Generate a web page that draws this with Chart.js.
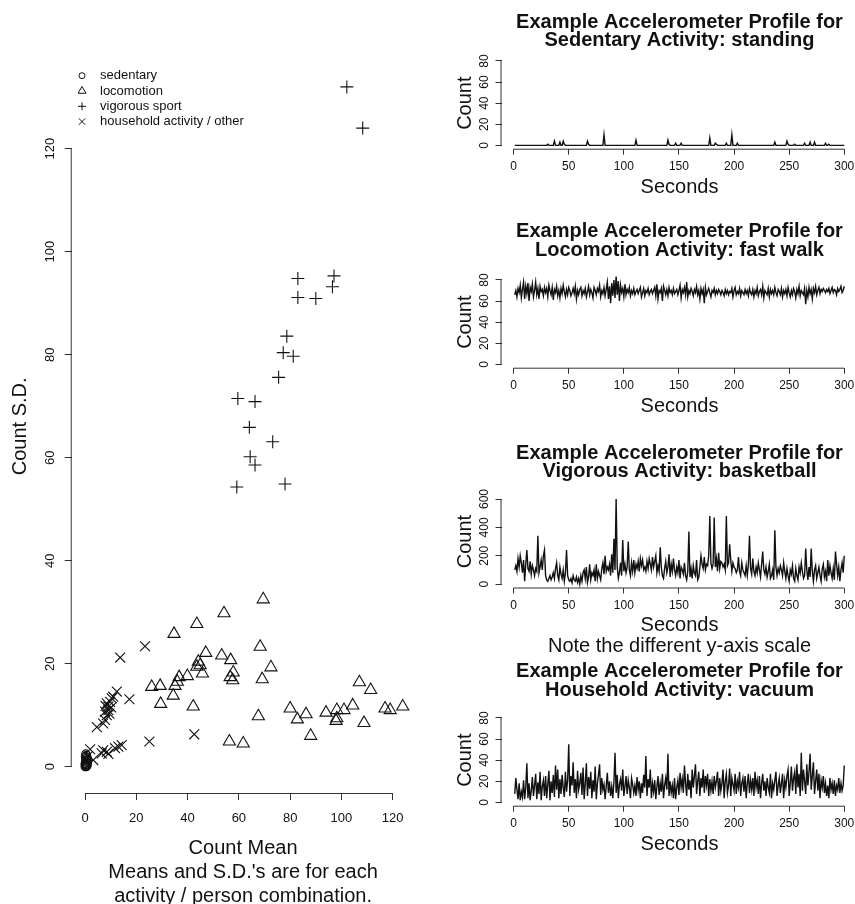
<!DOCTYPE html>
<html>
<head>
<meta charset="utf-8">
<title>Accelerometer profiles</title>
<script src="https://cdn.jsdelivr.net/npm/chart.js@4.4.1/dist/chart.umd.min.js"></script>
<style>
  html, body { margin: 0; padding: 0; width: 855px; height: 904px; overflow: hidden; background: #fff; }
  canvas { position: absolute; }
</style>
</head>
<body>
<canvas id="scatterChart" width="430" height="908" style="left:0;top:0"></canvas>
<canvas id="standingChart" width="430" height="199" style="left:430px;top:0"></canvas>
<canvas id="walkChart" width="430" height="199" style="left:430px;top:219px"></canvas>
<canvas id="basketballChart" width="430" height="219" style="left:430px;top:438px"></canvas>
<canvas id="vacuumChart" width="430" height="199" style="left:430px;top:657px"></canvas>
<script>
// scatter: count mean vs count S.D., one point per activity / person
const sedentaryMean = [0.0, 0.1, 0.3, 0.2, 0.5, 0.7, 0.4, 0.9, 0.1, 0.6, 1.0, 0.2, 0.8, 0.0, 0.5, 0.3, 1.1, 0.4];
const sedentarySD = [0.0, 0.4, 0.1, 0.9, 0.5, 1.2, 1.6, 0.3, 2.0, 2.2, 0.8, 1.3, 1.8, 0.6, 0.0, 2.5, 1.4, 0.2];

const locomotionMean = [69.5, 54.2, 43.6, 34.7, 68.3, 47.1, 53.3, 56.8, 44.2, 44.9, 43.6, 72.5, 45.8, 57.8, 56.6,
  57.6, 69.1, 39.9, 36.7, 36.0, 35.1, 29.3, 26.0, 34.4, 29.5, 42.2, 67.6, 56.3, 61.7, 80.0,
  82.8, 86.2, 88.0, 94.0, 98.2, 97.9, 98.2, 101.0, 104.4, 107.0, 111.4, 108.8, 117.0, 119.0, 123.9];
const locomotionSD = [32.5, 29.8, 27.7, 25.8, 23.3, 22.1, 21.6, 20.7, 20.4, 19.7, 19.4, 19.3, 18.1, 18.3, 17.4,
  16.8, 17.0, 17.6, 17.4, 16.5, 15.7, 15.7, 15.5, 13.8, 12.2, 11.7, 9.8, 4.9, 4.5, 11.3,
  9.2, 10.2, 6.0, 10.5, 11.0, 8.9, 9.4, 11.0, 11.9, 16.4, 14.9, 8.5, 11.3, 11.0, 11.7];

const vigorousMean = [102.1, 108.3, 83.0, 97.1, 96.5, 83.0, 90.0, 78.7, 77.3, 81.2, 75.5, 59.6, 66.3, 64.1, 73.2, 64.4, 66.3, 59.2, 78.0];
const vigorousSD = [132.0, 124.0, 94.8, 95.3, 93.2, 91.1, 90.9, 83.6, 80.4, 79.7, 75.6, 71.5, 70.9, 65.9, 63.1, 60.2, 58.6, 54.3, 54.9];

const householdMean = [13.7, 23.4, 12.4, 17.3, 4.6, 7.1, 7.8, 8.5, 7.8, 9.1, 8.5, 9.8, 10.4, 11.0, 9.1,
  10.2, 8.0, 9.5, 2.0, 7.1, 8.5, 9.1, 11.7, 13.0, 14.3, 25.1, 42.6, 3.2, 1.0, 6.5];
const householdSD = [21.2, 23.4, 14.6, 13.1, 7.7, 8.4, 9.1, 10.0, 10.7, 11.7, 12.3, 12.6, 13.3, 13.6, 11.0,
  11.5, 11.8, 10.3, 3.4, 3.2, 2.9, 2.5, 3.6, 3.9, 4.2, 4.9, 6.3, 1.3, 2.0, 2.6];

const meanTicks = [0, 20, 40, 60, 80, 100, 120];
const secondTicks = [0, 50, 100, 150, 200, 250, 300];

// example profiles, one count per second (1..300)
const standing = [
  0,0,0,0,0,0,0,0,0,0, 0,0,0,0,0,0,0,0,0,0, 0,0,0,0,0,0,0,0,0,0,
  1,0,0,0,0,0,4,0,0,0, 0,3,0,0,4,1,0,0,0,0, 0,0,0,0,0,0,0,0,0,0,
  0,0,0,0,0,0,4,1,0,0, 0,0,0,0,0,0,0,0,0,0, 0,10,0,0,0,0,0,0,0,0,
  0,0,0,0,0,0,0,0,0,0, 0,0,0,0,0,0,0,0,0,0, 5,0,0,0,0,0,0,0,0,0,
  0,0,0,0,0,0,0,0,0,0, 0,0,0,0,0,0,0,0,0,5, 1,0,0,0,0,0,2,0,0,0,
  0,2,0,0,0,0,0,0,0,0, 0,0,0,0,0,0,0,0,0,0, 0,0,0,0,0,0,0,7,0,0,
  0,0,2,1,0,0,0,0,0,0, 0,0,2,0,0,0,0,10,0,0, 0,0,2,0,0,0,0,0,0,0,
  0,0,0,0,0,0,0,0,0,0, 0,0,0,0,0,0,0,0,0,0, 0,0,0,0,0,0,3,0,0,0,
  0,0,0,0,0,0,0,4,1,0, 0,0,0,0,1,0,0,0,0,0, 0,0,0,2,0,0,0,0,3,0,
  0,0,3,0,0,0,0,0,0,0, 0,0,2,0,0,1,0,0,0,0, 0,0,0,0,0,0,0,0,0,0
];
const fastWalk = [
  66,70,64,72,68,75,63,71,78,62,74,67,77,60,73,69,76,64,70,78,66,72,62,74,69,71,65,73,68,72,
  64,75,70,66,73,61,71,68,74,65,70,63,72,67,75,69,64,71,66,73,70,65,68,72,67,74,62,70,66,71,
  73,65,70,67,72,64,69,74,66,71,68,63,73,70,66,72,69,75,64,70,67,73,65,71,78,62,74,58,77,65,
  80,63,84,66,79,60,75,68,72,64,76,66,71,68,73,65,70,67,72,66,69,71,67,70,73,64,68,72,65,70,
  68,72,66,69,71,67,70,73,65,76,62,70,68,72,60,74,70,66,71,65,73,68,70,66,72,67,69,71,66,70,
  75,63,71,68,73,66,78,64,70,67,72,69,65,71,68,74,66,70,62,72,67,71,58,73,66,69,72,68,64,70,
  68,72,66,70,67,71,69,66,70,68,65,71,67,70,66,69,68,72,64,70,73,66,69,67,72,65,70,68,66,71,
  67,70,65,72,68,66,71,64,70,67,73,65,69,71,66,74,63,70,68,66,72,64,71,67,70,66,73,68,65,71,
  69,66,72,64,70,67,71,65,73,68,64,70,66,72,69,63,71,67,74,65,70,68,66,72,57,70,64,73,67,71,
  62,72,68,74,66,70,73,67,71,69,72,70,68,71,69,72,67,70,73,68,71,70,66,72,69,71,74,68,70,74
];
const basketball = [
  100,130,90,180,120,200,150,80,170,20,140,240,110,90,160,70,130,100,60,110,90,340,80,120,170,100,200,240,60,30,
  20,40,60,30,50,80,40,110,150,60,30,120,70,40,100,20,80,240,60,30,20,40,10,60,30,20,50,10,40,0,
  60,20,80,100,40,120,10,50,140,30,80,60,100,20,140,40,90,60,30,110,150,70,200,90,120,100,140,60,210,80,
  320,100,600,120,40,80,150,60,310,90,140,80,120,300,100,60,150,90,170,80,140,110,160,90,180,130,170,100,120,90,
  160,110,180,140,100,190,120,160,200,80,130,90,260,120,60,40,110,160,80,120,210,50,140,90,180,100,60,120,80,170,
  40,120,100,70,150,60,30,90,370,50,110,40,130,80,60,170,30,50,120,200,140,110,190,100,140,130,200,480,150,110,
  140,470,120,180,90,220,110,160,150,120,140,100,480,130,150,280,170,90,150,120,110,80,100,190,90,60,150,100,80,60,
  130,60,140,340,110,70,180,90,60,120,80,150,100,50,140,230,100,70,120,50,90,140,40,60,100,30,380,120,60,110,
  80,130,100,60,150,90,40,110,60,20,100,70,130,40,20,110,60,30,120,80,150,90,40,60,250,100,30,120,50,250,
  90,20,100,130,40,80,120,60,20,110,140,50,90,20,170,60,130,80,40,110,30,230,140,60,120,20,100,150,80,200
];
const vacuum = [
  8,23,12,3,18,2,10,5,21,3,14,37,4,18,2,11,24,6,16,27,3,19,8,29,2,15,21,6,25,4,
  17,30,2,20,9,26,5,35,12,31,4,22,8,26,14,5,29,10,21,55,6,25,16,38,9,22,4,30,12,18,
  28,7,33,3,18,37,6,24,13,29,4,21,10,34,3,18,26,36,7,23,12,17,3,15,28,9,20,6,15,4,
  19,47,9,26,4,17,22,11,31,6,15,25,8,21,14,4,23,17,9,16,6,24,12,20,4,18,9,26,14,44,
  6,22,14,31,4,18,10,21,3,15,25,7,18,10,27,4,16,23,12,46,6,20,9,16,4,23,3,14,21,7,
  28,14,22,9,35,18,6,27,12,21,4,31,14,25,36,8,20,29,6,23,14,31,9,25,16,27,6,22,11,20,
  8,25,14,20,29,6,23,11,18,31,4,20,27,9,16,32,6,23,17,11,27,8,20,14,29,6,18,23,10,25,
  4,18,27,9,21,12,23,6,29,14,21,8,25,4,18,27,11,20,6,23,14,9,27,4,18,12,21,29,6,16,
  23,9,18,27,4,21,14,25,31,6,18,34,11,23,29,8,36,14,27,6,47,11,31,20,8,36,16,29,46,12,
  25,38,8,20,31,11,27,4,21,14,25,9,18,6,16,4,23,12,18,8,21,6,16,12,23,9,18,11,16,35
];

const FONT = "'Liberation Sans', Arial, Helvetica, sans-serif";
Chart.defaults.font.family = FONT;
Chart.defaults.color = '#111';
Chart.defaults.animation = false;

// R-like axes: axis line only between first and last tick, rotated y labels, titles over the plot region
const rAxes = {
  id: 'rAxes',
  afterDraw(chart, args, opts) {
    const { ctx, chartArea: a, scales: { x, y } } = chart;
    const first = s => s.getPixelForValue(s.ticks[0].value);
    const last = s => s.getPixelForValue(s.ticks[s.ticks.length - 1].value);
    ctx.save();
    ctx.strokeStyle = '#333';
    ctx.lineWidth = 1;
    ctx.beginPath();
    ctx.moveTo(first(x), a.bottom + 0.5);
    ctx.lineTo(last(x), a.bottom + 0.5);
    ctx.moveTo(a.left - 0.5, first(y));
    ctx.lineTo(a.left - 0.5, last(y));
    ctx.stroke();

    ctx.fillStyle = '#111';
    ctx.font = opts.tickSize + 'px ' + FONT;
    ctx.textAlign = 'center';
    ctx.textBaseline = 'middle';
    y.ticks.forEach(t => {
      ctx.save();
      ctx.translate(a.left - opts.labelGap, y.getPixelForValue(t.value));
      ctx.rotate(-Math.PI / 2);
      ctx.fillText(t.label, 0, 0);
      ctx.restore();
    });

    if (opts.title) {
      ctx.font = 'bold ' + opts.titleSize + 'px ' + FONT;
      opts.title.forEach((line, i) => {
        ctx.fillText(line, (a.left + a.right) / 2, a.top + opts.titleY[i]);
      });
    }
    ctx.restore();
  }
};

// legend in the top left corner of the scatter, R style (no box)
const rLegend = {
  id: 'rLegend',
  afterDraw(chart, args, opts) {
    const ctx = chart.ctx;
    ctx.save();
    chart.data.datasets.forEach((ds, i) => {
      const yy = opts.y + i * opts.rowGap;
      ctx.strokeStyle = '#111';
      ctx.fillStyle = 'rgba(0,0,0,0)';
      ctx.lineWidth = 1;
      Chart.helpers.drawPoint(ctx, { pointStyle: ds.pointStyle, radius: opts.radius[i], rotation: 0, borderWidth: 1 }, opts.x, yy);
      ctx.fillStyle = '#111';
      ctx.font = opts.size + 'px ' + FONT;
      ctx.textAlign = 'left';
      ctx.textBaseline = 'middle';
      ctx.fillText(ds.label, opts.textX, yy);
    });
    ctx.restore();
  }
};

const pairs = (xs, ys) => xs.map((v, i) => ({ x: v, y: ys[i] }));

function markerSet(label, xs, ys, style, r) {
  return {
    label: label,
    data: pairs(xs, ys),
    pointStyle: style,
    pointRadius: r,
    borderColor: '#111',
    backgroundColor: 'rgba(0,0,0,0)',
    borderWidth: 1.1
  };
}

new Chart(document.getElementById('scatterChart'), {
  type: 'scatter',
  data: {
    datasets: [
      markerSet('sedentary', sedentaryMean, sedentarySD, 'circle', 4),
      markerSet('locomotion', locomotionMean, locomotionSD, 'triangle', 7),
      markerSet('vigorous sport', vigorousMean, vigorousSD, 'cross', 6.5),
      markerSet('household activity / other', householdMean, householdSD, 'crossRot', 7)
    ]
  },
  options: {
    responsive: false,
    events: [],
    layout: { padding: { top: 59.6, right: 15.5, left: 0, bottom: 0 } },
    plugins: {
      legend: { display: false },
      tooltip: { enabled: false },
      rAxes: { tickSize: 13, labelGap: 21.7 },
      rLegend: { x: 82, textX: 100, y: 75.7, rowGap: 15.3, size: 13, radius: [3, 4.5, 4, 4.5] }
    },
    scales: {
      x: {
        type: 'linear', min: -5.2, max: 128.5,
        afterBuildTicks: s => { s.ticks = meanTicks.map(v => ({ value: v })); },
        ticks: { font: { size: 13 }, padding: 11, color: '#111' },
        grid: { drawOnChartArea: false, tickLength: 7, color: '#333' },
        border: { display: false },
        title: {
          display: true,
          text: ['Count Mean', "Means and S.D.'s are for each", 'activity / person combination.'],
          font: { size: 20, lineHeight: 1.2 }, padding: 0, color: '#111'
        },
        afterFit: s => { s.height = 115; }
      },
      y: {
        type: 'linear', min: -5.1, max: 137.3,
        ticks: { stepSize: 20, includeBounds: false, display: false },
        grid: { drawOnChartArea: false, tickLength: 7, color: '#333' },
        border: { display: false },
        title: { display: true, text: 'Count S.D.', font: { size: 20, lineHeight: 1.2 }, padding: { top: 8, bottom: 0 }, color: '#111' },
        afterFit: s => { s.width = 71.7; }
      }
    }
  },
  plugins: [rAxes, rLegend]
});

function profileChart(id, values, cfg) {
  return new Chart(document.getElementById(id), {
    type: 'line',
    data: {
      datasets: [{
        data: values.map((v, i) => ({ x: i + 1, y: v })),
        borderColor: '#111',
        borderWidth: 1.4,
        pointRadius: 0,
        tension: 0
      }]
    },
    options: {
      responsive: false,
      events: [],
      layout: { padding: { top: 57.6, right: 2.5, left: 0, bottom: 0 } },
      plugins: {
        legend: { display: false },
        tooltip: { enabled: false },
        rAxes: { tickSize: 12, labelGap: 16.5, title: cfg.title, titleY: cfg.titleY, titleSize: 20 }
      },
      scales: {
        x: {
          type: 'linear', min: -11, max: 312,
          afterBuildTicks: s => { s.ticks = secondTicks.map(v => ({ value: v })); },
          ticks: { font: { size: 12 }, padding: 5, color: '#111' },
          grid: { drawOnChartArea: false, tickLength: 6, color: '#333' },
          border: { display: false },
          title: { display: true, text: cfg.xTitle, font: { size: 20, lineHeight: cfg.xLine }, padding: 0, color: '#111' },
          afterFit: s => { s.height = cfg.xHeight; }
        },
        y: {
          type: 'linear', min: cfg.yMin, max: cfg.yMax,
          ticks: { stepSize: cfg.yStep, includeBounds: false, display: false },
          grid: { drawOnChartArea: false, tickLength: 6, color: '#333' },
          border: { display: false },
          title: { display: true, text: 'Count', font: { size: 20, lineHeight: 1.2 }, padding: { top: 23.7, bottom: 0 }, color: '#111' },
          afterFit: s => { s.width = 71.5; }
        }
      }
    },
    plugins: [rAxes]
  });
}

profileChart('standingChart', standing, {
  title: ['Example Accelerometer Profile for', 'Sedentary Activity: standing'],
  titleY: [-35.6, -17.6],
  xTitle: 'Seconds', xLine: 1.2, xHeight: 50.3,
  yMin: -3.2, yMax: 83.2, yStep: 20
});
profileChart('walkChart', fastWalk, {
  title: ['Example Accelerometer Profile for', 'Locomotion Activity: fast walk'],
  titleY: [-45.6, -26.6],
  xTitle: 'Seconds', xLine: 1.2, xHeight: 50.3,
  yMin: -3.2, yMax: 83.2, yStep: 20
});
profileChart('basketballChart', basketball, {
  title: ['Example Accelerometer Profile for', 'Vigorous Activity: basketball'],
  titleY: [-42.6, -24.6],
  xTitle: ['Seconds', 'Note the different y-axis scale'], xLine: 1.05, xHeight: 69.5,
  yMin: -24, yMax: 624, yStep: 200
});
profileChart('vacuumChart', vacuum, {
  title: ['Example Accelerometer Profile for', 'Household Activity: vacuum'],
  titleY: [-43.6, -24.6],
  xTitle: 'Seconds', xLine: 1.2, xHeight: 50.3,
  yMin: -3.2, yMax: 83.2, yStep: 20
});
</script>
</body>
</html>
